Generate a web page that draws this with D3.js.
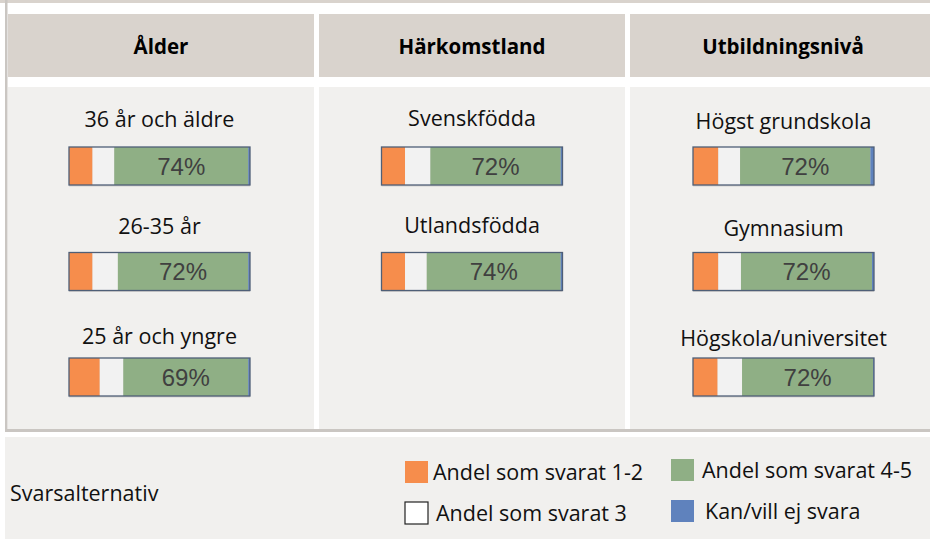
<!DOCTYPE html>
<html>
<head>
<meta charset="utf-8">
<script src="https://cdn.jsdelivr.net/npm/d3@7"></script>
<style>
  html, body { margin: 0; padding: 0; background: #ffffff; }
  svg { display: block; }
</style>
</head>
<body>
<svg id="chart" width="930" height="539"></svg>
<script>
// Response shares (%) per background group
const groups = ["Ålder", "Härkomstland", "Utbildningsnivå"];
const categories = [
  ["36 år och äldre", "26-35 år", "25 år och yngre"],
  ["Svenskfödda", "Utlandsfödda"],
  ["Högst grundskola", "Gymnasium", "Högskola/universitet"]
];
const share12 = [[13, 13, 17], [13, 13], [14, 14, 13.6]];
const share3 = [[12, 14, 13], [14, 12], [12, 12.5, 13.5]];
const share45 = [[74, 72, 69], [72, 74], [72, 72.4, 72.4]];
const noAnswer = [[1, 1, 1], [1, 1], [2, 1.1, 0.5]];

const legendTitle = "Svarsalternativ";
const legendLabels = ["Andel som svarat 1-2", "Andel som svarat 3", "Andel som svarat 4-5", "Kan/vill ej svara"];
const segmentColors = ["#f68d4c", "#f2f2f2", "#8faf85", "#5f82bd"];

const W = 930, H = 539;
const svg = d3.select("#chart");

const panelBg = "#f1f0ee";
const headerBg = "#d9d3cd";
const frameColor = "#cac6c2";
const labelFont = "'Open Sans', sans-serif";

// Column layout: three equal columns, the last one runs past the right edge
const colX = d3.scaleBand().domain(groups).range([8, 936]).paddingInner(5 / 311).paddingOuter(0);
const barShift = [-1.5, 0, 0.5];       // fine horizontal placement of the bars per column
const labelShift = [0, -1.5, 1.5];     // fine vertical placement of category labels per column

// Top strip and outer frame
svg.append("rect").attr("x", 0).attr("y", 0).attr("width", W).attr("height", 3).attr("fill", headerBg);
svg.append("rect").attr("x", 5).attr("y", 0).attr("width", 2.5).attr("height", 432).attr("fill", frameColor);
svg.append("rect").attr("x", 5).attr("y", 429).attr("width", W - 5).attr("height", 3).attr("fill", frameColor);

// Header cells
const headers = svg.append("g");
groups.forEach(g => {
  headers.append("rect")
    .attr("x", colX(g)).attr("y", 14)
    .attr("width", Math.min(colX.bandwidth(), W - colX(g))).attr("height", 63)
    .attr("fill", headerBg);
  headers.append("text")
    .attr("x", colX(g) + colX.bandwidth() / 2).attr("y", 54)
    .attr("text-anchor", "middle")
    .attr("font-family", labelFont)
    .attr("font-weight", "bold")
    .attr("font-size", 20.5)
    .attr("fill", "#000")
    .text(g);
});

// Body panels
groups.forEach(g => {
  svg.append("rect")
    .attr("x", colX(g)).attr("y", 87)
    .attr("width", Math.min(colX.bandwidth(), W - colX(g)))
    .attr("height", 342)
    .attr("fill", panelBg);
});

// Bars
const barWidth = 181, barHeight = 38;
const rowY = d3.scaleLinear().domain([0, 1]).range([147, 252.5]);
const labelBaselines = [127, 234, 344];

groups.forEach((g, gi) => {
  const cx = colX(g) + colX.bandwidth() / 2 + barShift[gi];
  const x = d3.scaleLinear().domain([0, 100]).range([cx - barWidth / 2, cx + barWidth / 2]);
  categories[gi].forEach((cat, ri) => {
    const y0 = rowY(ri);
    const vals = [share12[gi][ri], share3[gi][ri], share45[gi][ri], noAnswer[gi][ri]];
    const total = d3.sum(vals);
    const norm = vals.map(v => v / total * 100);
    const stackEnds = d3.cumsum(norm);
    const segs = norm.map((v, i) => ({ start: stackEnds[i] - v, end: stackEnds[i], value: vals[i], color: segmentColors[i] }));

    const row = svg.append("g");
    // category label
    row.append("text")
      .attr("x", cx).attr("y", labelBaselines[ri] + labelShift[gi])
      .attr("text-anchor", "middle")
      .attr("font-family", labelFont)
      .attr("font-size", 21.5)
      .attr("fill", "#111")
      .text(cat);
    // soft shadow under the bar
    row.append("rect")
      .attr("x", x(0)).attr("y", y0 + 1.5)
      .attr("width", x(100) - x(0)).attr("height", barHeight)
      .attr("fill", "#d4d2cf");
    row.selectAll("rect.seg").data(segs).join("rect")
      .attr("class", "seg")
      .attr("x", d => x(d.start)).attr("y", y0)
      .attr("width", d => x(d.end) - x(d.start)).attr("height", barHeight)
      .attr("fill", d => d.color);
    // outline
    row.append("rect")
      .attr("x", x(0)).attr("y", y0)
      .attr("width", x(100) - x(0)).attr("height", barHeight)
      .attr("fill", "none")
      .attr("stroke", "#4f5f77").attr("stroke-width", 1.3);
    // value label centred on the 4-5 segment
    const green = segs[2];
    row.append("text")
      .attr("x", (x(green.start) + x(green.end)) / 2).attr("y", y0 + barHeight / 2 + 8.5)
      .attr("text-anchor", "middle")
      .attr("font-family", "'Liberation Sans', Arial, sans-serif")
      .attr("font-size", 24)
      .attr("fill", "#404040")
      .text(Math.round(green.value) + "%");
  });
});

// Legend panel
svg.append("rect").attr("x", 5).attr("y", 437).attr("width", W - 5).attr("height", H - 437).attr("fill", panelBg);
svg.append("text")
  .attr("x", 10).attr("y", 501)
  .attr("font-family", labelFont)
  .attr("font-size", 21.5)
  .attr("fill", "#111")
  .text(legendTitle);

const legendItems = [
  { label: legendLabels[0], color: segmentColors[0], x: 405, y: 461, tx: 433, ty: 480, stroke: null },
  { label: legendLabels[1], color: "#ffffff", x: 405, y: 502, tx: 436, ty: 521, stroke: "#222" },
  { label: legendLabels[2], color: segmentColors[2], x: 671, y: 459, tx: 702, ty: 478, stroke: null },
  { label: legendLabels[3], color: segmentColors[3], x: 671, y: 500, tx: 705, ty: 519, stroke: null }
];
const lg = svg.append("g").selectAll("g").data(legendItems).join("g");
lg.append("rect")
  .attr("x", d => d.x).attr("y", d => d.y)
  .attr("width", 23).attr("height", 22)
  .attr("fill", d => d.color)
  .attr("stroke", d => d.stroke || "none").attr("stroke-width", 1.2);
lg.append("text")
  .attr("x", d => d.tx).attr("y", d => d.ty)
  .attr("font-family", labelFont)
  .attr("font-size", 21.5)
  .attr("fill", "#111")
  .text(d => d.label);
</script>
</body>
</html>
